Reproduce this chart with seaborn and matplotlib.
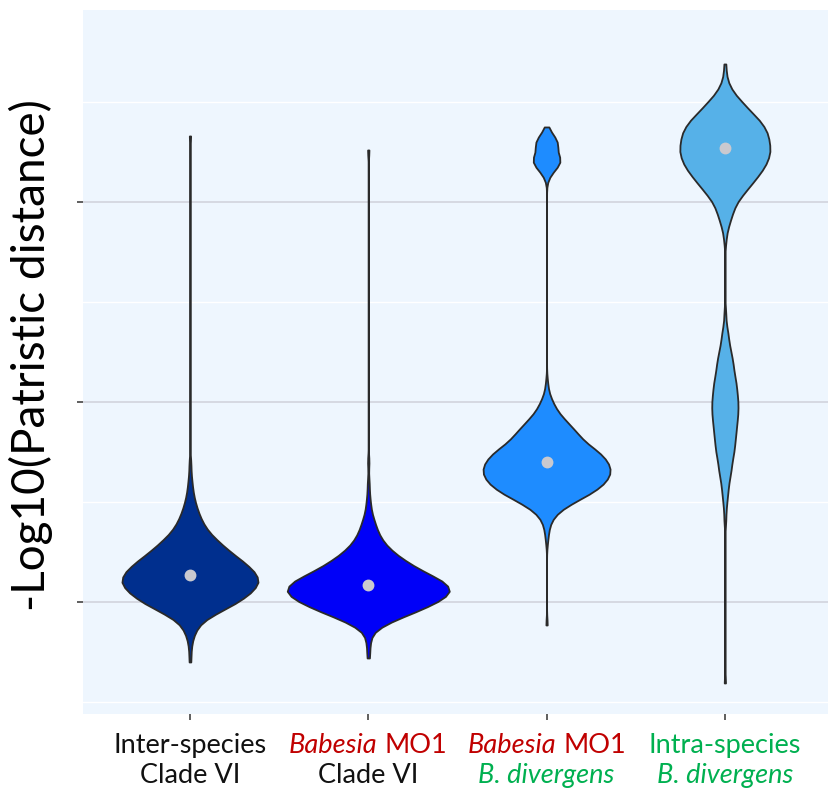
import numpy as np
import pandas as pd
import matplotlib
matplotlib.use("Agg")
import matplotlib.pyplot as plt
import matplotlib.transforms as mtransforms
import seaborn as sns

# ---- data: -log10 patristic distances, given as value bins with pair counts ----
groups = ["Inter-species Clade VI", "Babesia MO1 Clade VI",
          "Babesia MO1 B. divergens", "Intra-species B. divergens"]

inter_clade_values = [0.70, 0.75, 0.80, 0.85, 0.90, 0.95, 1.00, 1.05, 1.10, 1.15, 1.20,
                      1.25, 1.30, 1.35, 1.40, 1.45, 1.50, 1.55, 1.60, 1.65, 1.70,
                      3.33]
inter_clade_counts = [1, 1, 2, 5, 11, 28, 47, 60, 68, 63, 52,
                      39, 28, 18, 12, 8, 5, 3, 2, 1, 1,
                      1]

mo1_clade_values = [0.72, 0.75, 0.80, 0.85, 0.90, 0.95, 1.00, 1.05, 1.10, 1.15, 1.20,
                    1.25, 1.30, 1.35, 1.40, 1.45, 1.50, 1.55, 1.60, 1.70,
                    3.26]
mo1_clade_counts = [1, 1, 2, 4, 20, 44, 65, 79, 72, 52, 36,
                    23, 14, 9, 6, 3, 2, 1, 1, 1,
                    1]

mo1_div_values = [0.885,
                  1.30, 1.35, 1.40, 1.45, 1.50, 1.55, 1.60, 1.65, 1.70, 1.75,
                  1.80, 1.85, 1.90, 1.95, 2.00, 2.05, 2.10,
                  3.13, 3.17, 3.21, 3.25, 3.29, 3.33, 3.375]
mo1_div_counts = [1,
                  1, 2, 4, 11, 27, 46, 58, 63, 60, 51,
                  37, 29, 20, 11, 6, 2, 1,
                  2, 8, 14, 6, 11, 6, 1]

intra_div_values = [0.595,
                    1.40, 1.45, 1.50, 1.55, 1.60, 1.65, 1.70, 1.75, 1.80, 1.85, 1.90,
                    1.95, 2.00, 2.05, 2.10, 2.15, 2.20, 2.25, 2.30, 2.35, 2.40, 2.45,
                    2.80, 2.85, 2.90, 2.95, 3.00, 3.05, 3.10, 3.15, 3.20, 3.25,
                    3.30, 3.35, 3.40, 3.45, 3.50, 3.55, 3.60, 3.65, 3.69]
intra_div_counts = [1,
                    1, 1, 2, 3, 4, 6, 7, 9, 10, 11, 12,
                    13, 13, 12, 11, 9, 8, 6, 4, 3, 1, 1,
                    1, 2, 5, 8, 12, 20, 28, 36, 42, 45,
                    44, 42, 36, 26, 17, 8, 3, 1, 1]

# reported median of each comparison
group_medians = [1.135, 1.085, 1.70, 3.27]

# ---- tick label text, split into styled runs ----
RED, GREEN, BLACK = "#C00000", "#00B050", "#111111"
label_line1 = [
    [("Inter-species", BLACK, "normal")],
    [("Babesia", RED, "italic"), ("MO1", RED, "normal")],
    [("Babesia", RED, "italic"), ("MO1", RED, "normal")],
    [("Intra-species", GREEN, "normal")],
]
label_line2 = [
    [("Clade VI", BLACK, "normal")],
    [("Clade VI", BLACK, "normal")],
    [("B. divergens", GREEN, "italic")],
    [("B. divergens", GREEN, "italic")],
]

value_sets = [(inter_clade_values, inter_clade_counts),
              (mo1_clade_values, mo1_clade_counts),
              (mo1_div_values, mo1_div_counts),
              (intra_div_values, intra_div_counts)]

frames = []
for g, (vals, cnts) in zip(groups, value_sets):
    frames.append(pd.DataFrame({"group": g, "value": np.repeat(vals, cnts)}))
df = pd.concat(frames, ignore_index=True)
med_df = pd.DataFrame({"group": groups, "median": group_medians})

# ---- styling ----
violin_colors = ["#002F8E", "#0000F8", "#1E8CFF", "#56B1E8"]
violin_widths = [0.763, 0.909, 0.712, 0.505]
kde_bandwidth = 0.032

plt.rcParams["font.family"] = ["Lato", "DejaVu Sans"]

fig = plt.figure(figsize=(8.29, 7.98), dpi=100, facecolor="white")
ax = fig.add_axes([0.1001, 0.1053, 0.8999, 0.8822])
ax.set_facecolor("#EEF6FE")

for g, col, w in zip(groups, violin_colors, violin_widths):
    sub = df[df["group"] == g]
    sns.violinplot(data=sub, x="group", y="value", order=groups, color=col,
                   saturation=1, width=w, cut=0, inner=None,
                   bw_method=kde_bandwidth / sub["value"].std(),
                   density_norm="width", linewidth=1.3, linecolor="#2a2a2a",
                   ax=ax, zorder=3)

sns.pointplot(data=med_df, x="group", y="median", order=groups,
              errorbar=None, color="#C9C9CF", markers="o", linestyle="none",
              markersize=6.5, ax=ax, zorder=5)

ax.set_xlim(-0.6, 3.584)
ax.set_ylim(0.44, 3.96)
ax.set_yticks([1, 2, 3])
ax.set_yticks([0.5, 1.5, 2.5, 3.5], minor=True)
ax.set_yticklabels([])
ax.set_xticks(range(len(groups)))
ax.set_xticklabels([])
ax.grid(which="major", axis="y", color="#D4D6DF", linewidth=1.3, zorder=0)
ax.grid(which="minor", axis="y", color="white", linewidth=1.0, zorder=0)
ax.xaxis.grid(False)
ax.set_axisbelow(True)
ax.tick_params(axis="both", which="major", length=4, width=1.1, color="#333333", pad=2)
ax.tick_params(axis="y", which="minor", length=0)
for s in ax.spines.values():
    s.set_visible(False)

ax.set_xlabel("")
ax.set_ylabel("-Log10(Patristic distance)", fontsize=33, color="black")
ax.yaxis.set_label_coords(-0.040, 0.51)

# ---- rich two-line category labels ----
renderer = fig.canvas.get_renderer()
label_size = 19.5
base = mtransforms.blended_transform_factory(ax.transData, fig.transFigure)


def text_width(s, style):
    t = fig.text(0, 0, s, fontsize=label_size, style=style)
    w = t.get_window_extent(renderer).width
    t.remove()
    return w


space_px = text_width("M M", "normal") - text_width("MM", "normal")


def draw_runs(xpos, yfig, runs):
    items = []
    for txt, col, sty in runs:
        t = ax.text(xpos, yfig, txt, color=col, style=sty, fontsize=label_size,
                    ha="left", va="center", transform=base, clip_on=False)
        items.append((t, t.get_window_extent(renderer).width))
    total = sum(w for _, w in items) + space_px * (len(items) - 1)
    off = -total / 2
    for t, w in items:
        shift = mtransforms.ScaledTranslation(off / fig.dpi, 0, fig.dpi_scale_trans)
        t.set_transform(base + shift)
        off += w + space_px


for i in range(len(groups)):
    draw_runs(i, 0.0652, label_line1[i])
    draw_runs(i, 0.0276, label_line2[i])

fig.savefig("out.png", dpi=100, facecolor="white")
